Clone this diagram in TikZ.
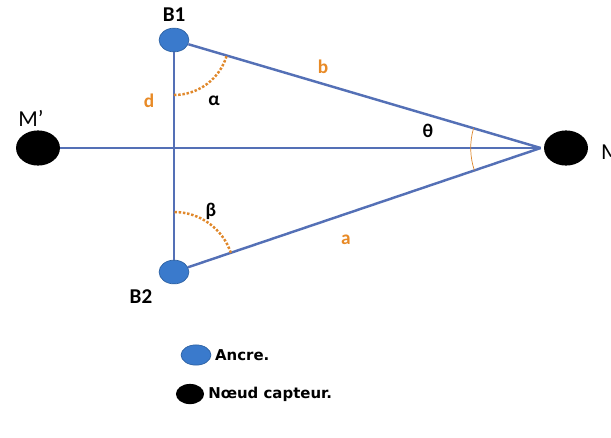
\documentclass[tikz,border=0pt]{standalone}
\usepackage{fontspec}
\setmainfont{Carlito}
\newfontfamily\legfont{DejaVu Sans}
\usepackage{xcolor}
\usetikzlibrary{positioning, shapes.geometric, angles, calc}

\definecolor{trait}{RGB}{84,112,182}
\definecolor{bleuancre}{RGB}{58,122,204}
\definecolor{orangelbl}{RGB}{232,138,38}

\begin{document}
\begin{tikzpicture}[
    x=0.02cm, y=-0.02cm,
    font=\fontsize{11}{13}\selectfont,
    ancre/.style={ellipse, fill=bleuancre, draw=bleuancre!80!black, thin,
                  minimum width=17pt, minimum height=13.5pt, inner sep=0pt},
    capteur/.style={ellipse, fill=black, minimum width=25pt,
                    minimum height=20pt, inner sep=0pt},
    cote/.style={text=orangelbl, font=\fontsize{11}{13}\selectfont\bfseries},
    segment/.style={draw=trait, line width=1.4pt},
    arcpt/.style={draw=orangelbl!80!brown, densely dotted, line width=1.4pt},
    legende/.style={font=\legfont\fontsize{8.5}{10}\selectfont\bfseries,
                    inner sep=1pt}
  ]
  \useasboundingbox (0,0) rectangle (611,437);

  % --- Noeuds ---
  \node[ancre] (B1) at (174,40) {};
  \node[ancre] (B2) at (174,272) {};
  \node[capteur] (Mp) at (38,148) {};
  \node[capteur] (M)  at (566,148) {};
  \coordinate (sommet) at ($(M.west)+(-3,0)$);

  \node[font=\fontsize{12}{14}\selectfont\bfseries, above=0pt of B1] {B1};
  \node[font=\fontsize{12}{14}\selectfont\bfseries] at (141,297) {B2};
  \node[font=\fontsize{13}{15}\selectfont] at (31,118) {M'};
  \node[font=\fontsize{13}{15}\selectfont, anchor=west] at (595,152) {M};

  % --- Segments ---
  \draw[segment] (B1) -- (B2);
  \draw[segment] (Mp) -- (sommet);
  \draw[segment] (B1) -- (sommet);
  \draw[segment] (B2) -- (sommet);

  % --- Angles ---
  \pic[arcpt, angle radius=1.1cm] {angle=B2--B1--sommet};
  \pic[arcpt, angle radius=1.2cm] {angle=sommet--B2--B1};
  \pic[draw=orangelbl!70!brown, thin, angle radius=1.4cm] {angle=B1--sommet--B2};

  % --- Textes ---
  \node[cote] at (149,101) {d};
  \node[cote] at (323,67) {b};
  \node[cote] at (346,240) {a};
  \node[font=\fontsize{11}{13}\selectfont\bfseries] at (214,101) {α};
  \node[font=\fontsize{11}{13}\selectfont\bfseries] at (428,131) {θ};
  \node[font=\fontsize{11}{13}\selectfont\bfseries] at (211,211) {β};

  % --- Legende ---
  \node[ancre, minimum width=17pt, minimum height=11.5pt] (legancre) at (196,355) {};
  \node[legende, right=1pt of legancre] {Ancre.};
  \node[capteur, minimum width=16pt, minimum height=11.5pt] (legcapteur) at (190,394) {};
  \node[legende, right=1pt of legcapteur] {Nœud capteur.};
\end{tikzpicture}
\end{document}
